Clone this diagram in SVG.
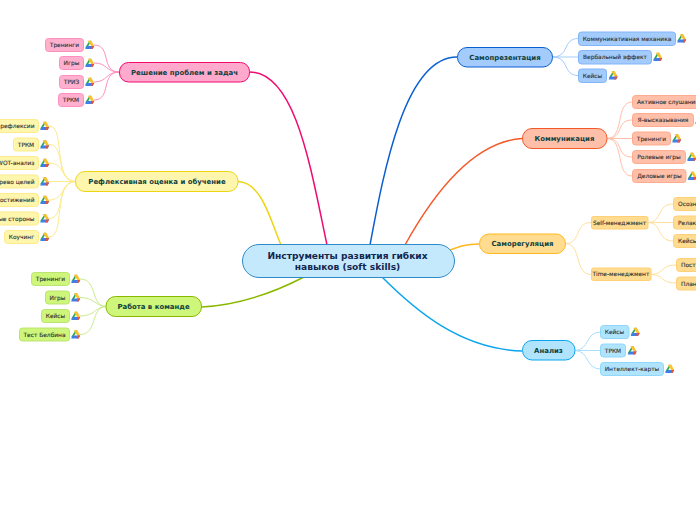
<svg xmlns="http://www.w3.org/2000/svg" width="696" height="520" viewBox="0 0 696 520">
<style>
text{font-family:"DejaVu Sans",sans-serif;text-anchor:middle;dominant-baseline:central}
.c{font-size:9.1px;font-weight:700;fill:#13264f}
.m{font-size:6.95px;font-weight:700;fill:#0f3f3f}
.s{font-size:5.9px;font-weight:400;fill:#333;stroke:#333;stroke-width:.12}
.e{text-anchor:end}.b{text-anchor:start}
#connectors path{fill:none}
.t{stroke-width:1.5}.l{stroke-width:1}
.pk{fill:#ffb0cf}.pk2{fill:#ffa9cc;stroke:#f00b73}
.ye{fill:#fff6ae}.ye2{fill:#fff6ae;stroke:#eed514}
.gr{fill:#cdf67a}.gr2{fill:#cdf67a;stroke:#8ab800}
.bl{fill:#a3cbfb}.bl2{fill:#a3cbfb;stroke:#0a5fd0}
.or{fill:#ffbfa9}.or2{fill:#ffbfa9;stroke:#f4592a}
.go{fill:#ffdc8f}.go2{fill:#ffdc8f;stroke:#ffb81f}
.cy{fill:#b0e4fd}.cy2{fill:#b0e4fd;stroke:#0aa5ee}
.pk,.ye,.gr,.bl,.or,.go,.cy{stroke-width:1}
.pk{stroke:#ff8fbe}.ye{stroke:#fdeb8c}.gr{stroke:#bce472}.bl{stroke:#82b5f8}.or{stroke:#ffab8f}.go{stroke:#ffd077}.cy{stroke:#8fd8fb}
.pk2,.ye2,.gr2,.bl2,.or2,.go2,.cy2{stroke-width:1}
</style>
<defs>
<g id="d"><polygon points="0,-4.200 -4.400,2.800 -2.200,2.800 1.800,-4.200" fill="#2da94f"/><polygon points="-1.800,-4.200 1.800,-4.200 4.700,1.100 1.800,1.100" fill="#fbc02d"/><polygon points="-2.700,1.100 4.700,1.100 3.100,4 -4.400,4" fill="#3f7ee8"/><polygon points="1.800,1.100 4.700,1.100 3.100,4 1.300,4" fill="#e5533d"/></g>
</defs>
<g id="connectors">
<g class="t">
<path stroke="#f00b73" d="M249.500 72C296 72 311 170 327 245"/>
<path stroke="#eed514" d="M238 181.500C262 182 271 222 281 245"/>
<path stroke="#8ab800" d="M201.500 307C240 305 275 292 304 277"/>
<path stroke="#0a5fd0" d="M457 57C405 57 384 170 370 245"/>
<path stroke="#f4592a" d="M522 138.500C470 142 430 200 405 245"/>
<path stroke="#ffb81f" d="M479 244C465 244 458 247 450 250"/>
<path stroke="#0aa5ee" d="M522 351C460 349 415 310 382 277"/>
</g>
<g class="l" stroke="#ff8fbe">
<path d="M119.500 72C100 72 112 45 94 45"/><path d="M119.500 72C105 72 108 63 94 63"/><path d="M119.500 72C105 72 108 82 94 82"/><path d="M119.500 72C100 72 112 100 94 100"/>
</g>
<g class="l" stroke="#fdeb8c">
<path d="M75.500 181.500C52 181 66 126 49 126"/><path d="M75.500 181.500C55 181 66 144.500 49 144.500"/><path d="M75.500 181.500C60 181 66 163 49 163"/><path d="M75.500 181.500H49"/><path d="M75.500 181.500C60 182 66 200 49 200"/><path d="M75.500 181.500C55 182 66 218.500 49 218.500"/><path d="M75.500 181.500C52 182 66 237 49 237"/>
</g>
<g class="l" stroke="#cbea8f">
<path d="M106 306.500C90 306 98 279 80 279"/><path d="M106 306.500C95 306 95 297.500 80 297.500"/><path d="M106 306.500C95 307 95 316 80 316"/><path d="M106 306.500C90 307 98 334.500 80 334.500"/>
</g>
<g class="l" stroke="#a3cbfb">
<path d="M552.500 57C570 57 562 38.500 578.500 38.500"/><path d="M552.500 57H578.500"/><path d="M552.500 57C570 57 562 75.500 578.500 75.500"/>
</g>
<g class="l" stroke="#ffbfa9">
<path d="M607 138.500C625 138 615 102 632 102"/><path d="M607 138.500C625 138 615 120 632 120"/><path d="M607 138.500H632"/><path d="M607 138.500C625 139 615 157 632 157"/><path d="M607 138.500C625 139 615 176 632 176"/>
</g>
<g class="l" stroke="#ffe09a">
<path d="M565.500 243.500C582 243 574 222.500 591 222.500"/><path d="M565.500 243.500C582 244 574 274.500 591 274.500"/>
<path d="M648 222.500C663 222 656 204 673.500 204"/><path d="M648 222.500H673.500"/><path d="M648 222.500C663 223 656 241 673.500 241"/>
<path d="M651 274.500C665 274 660 265 676 265"/><path d="M651 274.500C665 275 660 283 676 283"/>
</g>
<g class="l" stroke="#a9e1fc">
<path d="M575 350.500C590 350 585 332 600.500 332"/><path d="M575 350.500H600.500"/><path d="M575 350.500C590 351 585 369 600.500 369"/>
</g>
</g>
<g id="center"><rect x="242.500" y="244.500" width="212" height="33" rx="16.500" fill="#c4e9fd" stroke="#2e8bc9"/><text class="c" x="347.500" y="255.500">Инструменты развития гибких</text><text class="c" x="347.500" y="267">навыков (soft skills)</text></g>

<g id="n1"><rect class="pk2" x="119.500" y="62.500" width="130" height="19.500" rx="9"/><text class="m" x="184.500" y="72.500">Решение проблем и задач</text></g>
<g id="n1a"><rect class="pk" x="45.500" y="38.500" width="38" height="13" rx="3"/><text class="s" x="64.500" y="45">Тренинги</text><use href="#d" x="89.500" y="45"/></g>
<g id="n1b"><rect class="pk" x="59.500" y="56.500" width="24" height="13" rx="3"/><text class="s" x="71.500" y="63">Игры</text><use href="#d" x="89.500" y="63"/></g>
<g id="n1c"><rect class="pk" x="59.500" y="75.500" width="24" height="13" rx="3"/><text class="s" x="71.500" y="82">ТРИЗ</text><use href="#d" x="89.500" y="82"/></g>
<g id="n1d"><rect class="pk" x="58.500" y="93.500" width="25" height="13" rx="3"/><text class="s" x="71" y="100">ТРКМ</text><use href="#d" x="89.500" y="100"/></g>

<g id="n2"><rect class="ye2" x="75.500" y="171.500" width="162.500" height="20" rx="9.500"/><text class="m" x="157" y="181.500">Рефлексивная оценка и обучение</text></g>
<g id="n2a"><rect class="ye" x="-30" y="119.500" width="68.500" height="13" rx="3"/><text class="s e" x="34.500" y="126">рефлексии</text><use href="#d" x="44.500" y="126"/></g>
<g id="n2b"><rect class="ye" x="13.500" y="138" width="25" height="13" rx="3"/><text class="s" x="26" y="144.500">ТРКМ</text><use href="#d" x="44.500" y="144.500"/></g>
<g id="n2c"><rect class="ye" x="-30" y="156.500" width="68.500" height="13" rx="3"/><text class="s e" x="34.500" y="163">SWOT-анализ</text><use href="#d" x="44.500" y="163"/></g>
<g id="n2d"><rect class="ye" x="-30" y="175" width="68.500" height="13" rx="3"/><text class="s e" x="34.500" y="181.500">Дерево целей</text><use href="#d" x="44.500" y="181.500"/></g>
<g id="n2e"><rect class="ye" x="-30" y="193.500" width="68.500" height="13" rx="3"/><text class="s e" x="34.500" y="200">достижений</text><use href="#d" x="44.500" y="200"/></g>
<g id="n2f"><rect class="ye" x="-30" y="212" width="68.500" height="13" rx="3"/><text class="s e" x="34.500" y="218.500">ые стороны</text><use href="#d" x="44.500" y="218.500"/></g>
<g id="n2g"><rect class="ye" x="4.500" y="230.500" width="34" height="13" rx="3"/><text class="s" x="21.500" y="237">Коучинг</text><use href="#d" x="44.500" y="237"/></g>

<g id="n3"><rect class="gr2" x="106" y="296.500" width="95.500" height="20" rx="9.500"/><text class="m" x="153.500" y="306.500">Работа в команде</text></g>
<g id="n3a"><rect class="gr" x="31.500" y="272.500" width="38" height="13" rx="3"/><text class="s" x="50.500" y="279">Тренинги</text><use href="#d" x="75.500" y="279"/></g>
<g id="n3b"><rect class="gr" x="45.500" y="291" width="24" height="13" rx="3"/><text class="s" x="57.500" y="297.500">Игры</text><use href="#d" x="75.500" y="297.500"/></g>
<g id="n3c"><rect class="gr" x="41.500" y="309.500" width="28" height="13" rx="3"/><text class="s" x="55.500" y="316">Кейсы</text><use href="#d" x="75.500" y="316"/></g>
<g id="n3d"><rect class="gr" x="19.500" y="328" width="50" height="13" rx="3"/><text class="s" x="44.500" y="334.500">Тест Белбина</text><use href="#d" x="75.500" y="334.500"/></g>

<g id="n4"><rect class="bl2" x="457.500" y="47.500" width="95" height="19.500" rx="9.500"/><text class="m" x="505" y="57.500">Самопрезентация</text></g>
<g id="n4a"><rect class="bl" x="578.500" y="32" width="97" height="13.500" rx="3"/><text class="s" x="627" y="38.500">Коммуникативная механика</text><use href="#d" x="681.500" y="38.500"/></g>
<g id="n4b"><rect class="bl" x="578.500" y="50.500" width="73" height="13.500" rx="3"/><text class="s" x="615" y="57">Вербальный эффект</text><use href="#d" x="657.500" y="57"/></g>
<g id="n4c"><rect class="bl" x="578.500" y="69" width="28" height="13.500" rx="3"/><text class="s" x="592.500" y="75.500">Кейсы</text><use href="#d" x="613" y="75.500"/></g>

<g id="n5"><rect class="or2" x="522.500" y="128.500" width="84.500" height="20" rx="9.500"/><text class="m" x="564.500" y="138.500">Коммуникация</text></g>
<g id="n5a"><rect class="or" x="632.500" y="95.500" width="80" height="13" rx="3"/><text class="s b" x="637" y="102">Активное слушание</text></g>
<g id="n5b"><rect class="or" x="632.500" y="113.500" width="61" height="13" rx="3"/><text class="s" x="663" y="120">Я-высказывания</text><use href="#d" x="699.500" y="120"/></g>
<g id="n5c"><rect class="or" x="632.500" y="132" width="38" height="13" rx="3"/><text class="s" x="651.500" y="138.500">Тренинги</text><use href="#d" x="676.500" y="138.500"/></g>
<g id="n5d"><rect class="or" x="632.500" y="150.500" width="53" height="13" rx="3"/><text class="s" x="659" y="157">Ролевые игры</text><use href="#d" x="691.500" y="157"/></g>
<g id="n5e"><rect class="or" x="632.500" y="169.500" width="53.500" height="13" rx="3"/><text class="s" x="659.500" y="176">Деловые игры</text><use href="#d" x="692" y="176"/></g>

<g id="n6"><rect class="go2" x="479.500" y="234" width="86" height="19.500" rx="9.500"/><text class="m" x="522.500" y="243.500">Саморегуляция</text></g>
<g id="n6a"><rect class="go" x="591.500" y="216.500" width="56.500" height="12.500" rx="2"/><text class="s" x="619.500" y="222.800">Self-менеджмент</text></g>
<g id="n6b"><rect class="go" x="591.500" y="268" width="59.500" height="12.500" rx="2"/><text class="s" x="621" y="274.300">Time-менеджмент</text></g>
<g id="n6c"><rect class="go" x="673.500" y="197.500" width="40" height="13" rx="3"/><text class="s b" x="678" y="204">Осозн</text></g>
<g id="n6d"><rect class="go" x="673.500" y="216" width="40" height="13" rx="3"/><text class="s b" x="678" y="222.500">Релакс</text></g>
<g id="n6e"><rect class="go" x="673.500" y="234.500" width="40" height="13" rx="3"/><text class="s b" x="678" y="241">Кейсы</text></g>
<g id="n6f"><rect class="go" x="676.500" y="258.500" width="40" height="13" rx="3"/><text class="s b" x="681" y="265">Пост</text></g>
<g id="n6g"><rect class="go" x="676.500" y="277" width="40" height="13" rx="3"/><text class="s b" x="681" y="283.500">План</text></g>

<g id="n7"><rect class="cy2" x="522.500" y="340.500" width="52.500" height="19.500" rx="9.500"/><text class="m" x="548.500" y="350.500">Анализ</text></g>
<g id="n7a"><rect class="cy" x="600.500" y="325.500" width="28.500" height="13" rx="3"/><text class="s" x="614.500" y="332">Кейсы</text><use href="#d" x="635" y="332"/></g>
<g id="n7b"><rect class="cy" x="600.500" y="344" width="25" height="13" rx="3"/><text class="s" x="613" y="350.500">ТРКМ</text><use href="#d" x="632" y="350.500"/></g>
<g id="n7c"><rect class="cy" x="600.500" y="362.500" width="63" height="13" rx="3"/><text class="s" x="632" y="369">Интеллект-карты</text><use href="#d" x="669.500" y="369"/></g>
</svg>
